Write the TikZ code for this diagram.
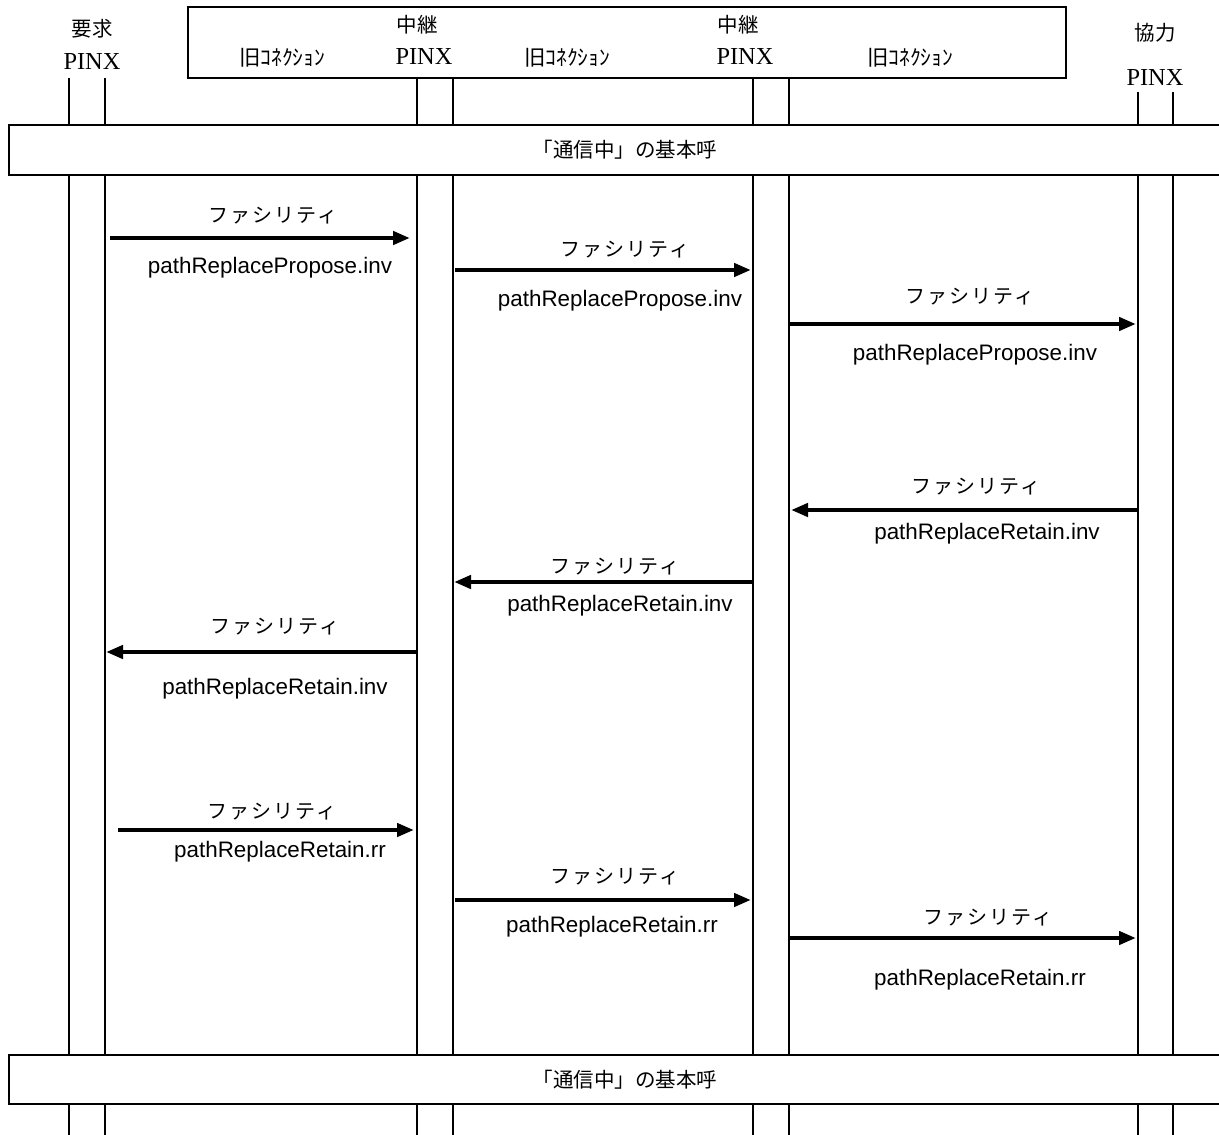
\documentclass[tikz,border=0pt]{standalone}
\usepackage{fontspec}
\setmainfont{Liberation Serif}
\newfontfamily\jpfont{Noto Sans CJK JP}
\newfontfamily\jpspaced[LetterSpace=10]{Noto Sans CJK JP}
\newfontfamily\arialfont{Liberation Sans}
\usetikzlibrary{arrows.meta}
\begin{document}
\begin{tikzpicture}[x=1pt,y=-1pt,
  jp/.style={font=\jpfont\fontsize{20.5}{24}\selectfont, inner sep=0pt},
  fac/.style={font=\jpspaced\fontsize{20}{24}\selectfont, inner sep=0pt},
  jpsmall/.style={font=\jpfont\fontsize{21.5}{24}\selectfont, inner sep=0pt},
  pinx/.style={font=\fontsize{24.4}{28}\selectfont, inner sep=0pt},
  msg/.style={font=\arialfont\fontsize{22.4}{26}\selectfont, inner sep=0pt},
  life/.style={line width=1.8pt},
  box/.style={draw, line width=2pt},
  sig/.style={line width=4.8pt, -{Triangle[length=17pt,width=13pt]}}
]
\useasboundingbox (0,0) rectangle (1219,1135);
% top relay box
\draw[box] (188,7) rectangle (1066,78);
\node[jp] (r1a) at (417,25) {中継};
\node[pinx] (r1b) at (424,57) {PINX};
\node[jp] (r2a) at (738,25) {中継};
\node[pinx] (r2b) at (745,57) {PINX};
\node[jpsmall] (o1) at (282,58) {旧ｺﾈｸｼｮﾝ};
\node[jpsmall] (o2) at (567,58) {旧ｺﾈｸｼｮﾝ};
\node[jpsmall] (o3) at (910,58) {旧ｺﾈｸｼｮﾝ};
% requester / cooperating labels
\node[jp] (qa) at (92,29) {要求};
\node[pinx] (qb) at (92,62) {PINX};
\node[jp] (ca) at (1155,33) {協力};
\node[pinx] (cb) at (1155,78) {PINX};
% lifelines
\foreach \x in {69,105,417,453,753,789} {
  \draw[life] (\x,78) -- (\x,125);
}
\foreach \x in {1138,1173} {
  \draw[life] (\x,92) -- (\x,125);
}
\foreach \x in {69,105,417,453,753,789,1138,1173} {
  \draw[life] (\x,175) -- (\x,1055);
  \draw[life] (\x,1104) -- (\x,1135);
}
% bars
\draw[box] (9,125) rectangle (1240,175);
\node[jp] (bar1) at (625,150) {「通信中」の基本呼};
\draw[box] (9,1055) rectangle (1240,1104);
\node[jp] (bar2) at (625,1080) {「通信中」の基本呼};
% arrow end points
\coordinate (a1s) at (110,238);  \coordinate (a1e) at (410,238);
\coordinate (a2s) at (455,270);  \coordinate (a2e) at (751,270);
\coordinate (a3s) at (790,324);  \coordinate (a3e) at (1136,324);
\coordinate (a4s) at (1138,510); \coordinate (a4e) at (791,510);
\coordinate (a5s) at (752,582);  \coordinate (a5e) at (454,582);
\coordinate (a6s) at (416,652);  \coordinate (a6e) at (106,652);
\coordinate (a7s) at (118,830);  \coordinate (a7e) at (414,830);
\coordinate (a8s) at (455,900);  \coordinate (a8e) at (751,900);
\coordinate (a9s) at (790,938);  \coordinate (a9e) at (1136,938);
\draw[sig] (a1s) -- (a1e);
\draw[sig] (a2s) -- (a2e);
\draw[sig] (a3s) -- (a3e);
\draw[sig] (a4s) -- (a4e);
\draw[sig] (a5s) -- (a5e);
\draw[sig] (a6s) -- (a6e);
\draw[sig] (a7s) -- (a7e);
\draw[sig] (a8s) -- (a8e);
\draw[sig] (a9s) -- (a9e);
% labels
\node[fac] (f1) at (273,216) {ファシリティ};
\node[msg] (m1) at (270,268) {pathReplacePropose.inv};
\node[fac] (f2) at (625,250) {ファシリティ};
\node[msg] (m2) at (620,301) {pathReplacePropose.inv};
\node[fac] (f3) at (970,297) {ファシリティ};
\node[msg] (m3) at (975,355) {pathReplacePropose.inv};
\node[fac] (f4) at (976,487) {ファシリティ};
\node[msg] (m4) at (987,534) {pathReplaceRetain.inv};
\node[fac] (f5) at (615,567) {ファシリティ};
\node[msg] (m5) at (620,606) {pathReplaceRetain.inv};
\node[fac] (f6) at (275,627) {ファシリティ};
\node[msg] (m6) at (275,689) {pathReplaceRetain.inv};
\node[fac] (f7) at (272,812) {ファシリティ};
\node[msg] (m7) at (280,852) {pathReplaceRetain.rr};
\node[fac] (f8) at (615,877) {ファシリティ};
\node[msg] (m8) at (612,927) {pathReplaceRetain.rr};
\node[fac] (f9) at (988,918) {ファシリティ};
\node[msg] (m9) at (980,980) {pathReplaceRetain.rr};
\end{tikzpicture}
\end{document}
